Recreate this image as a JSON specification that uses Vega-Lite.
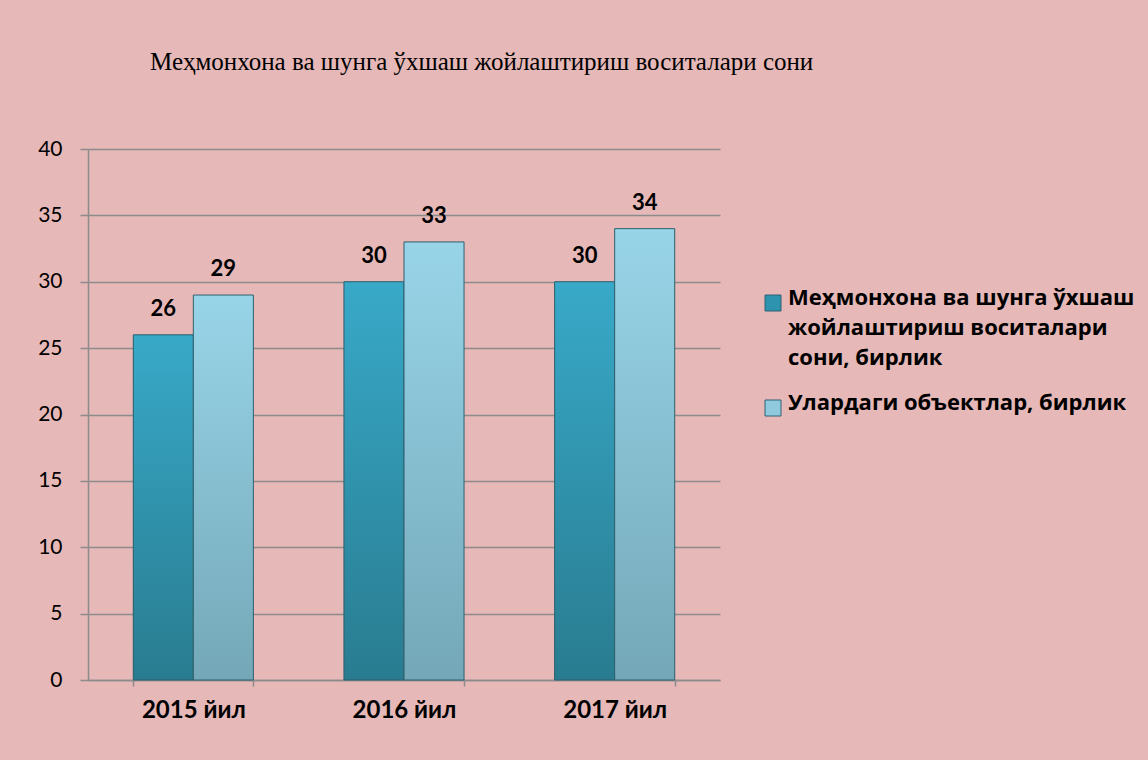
{
  "$schema": "https://vega.github.io/schema/vega-lite/v6.json",
  "width": 632,
  "height": 531,
  "autosize": {"type": "none"},
  "padding": {"left": 88, "top": 149, "right": 428, "bottom": 80},
  "background": "#E6B8B7",
  "title": {
    "text": "Меҳмонхона ва шунга ўхшаш жойлаштириш воситалари сони",
    "font": "Liberation Serif",
    "fontSize": 25,
    "fontWeight": "normal",
    "color": "#000000",
    "anchor": "start",
    "frame": "group",
    "dx": 62,
    "offset": 63
  },
  "config": {
    "view": {"stroke": null},
    "font": "Lato"
  },
  "data": {
    "values": [
      {"year": "2015 йил", "s": "Меҳмонхона ва шунга ўхшаш жойлаштириш воситалари сони, бирлик", "v": 26},
      {"year": "2015 йил", "s": "Улардаги объектлар, бирлик", "v": 29},
      {"year": "2016 йил", "s": "Меҳмонхона ва шунга ўхшаш жойлаштириш воситалари сони, бирлик", "v": 30},
      {"year": "2016 йил", "s": "Улардаги объектлар, бирлик", "v": 33},
      {"year": "2017 йил", "s": "Меҳмонхона ва шунга ўхшаш жойлаштириш воситалари сони, бирлик", "v": 30},
      {"year": "2017 йил", "s": "Улардаги объектлар, бирлик", "v": 34}
    ]
  },
  "encoding": {
    "x": {
      "field": "year",
      "type": "nominal",
      "scale": {"paddingInner": 0.43, "paddingOuter": 0.215},
      "axis": {
        "title": null,
        "labelAngle": 0,
        "labelFont": "Lato",
        "labelFontSize": 24,
        "labelFontWeight": "bold",
        "labelColor": "#000000",
        "labelPadding": 12,
        "domainColor": "#8C8C8C",
        "domainWidth": 1.5,
        "tickColor": "#8C8C8C",
        "tickWidth": 1.5,
        "tickSize": 6,
        "tickBand": "extent"
      }
    },
    "xOffset": {
      "field": "s",
      "type": "nominal",
      "sort": ["Меҳмонхона ва шунга ўхшаш жойлаштириш воситалари сони, бирлик", "Улардаги объектлар, бирлик"],
      "scale": {"paddingInner": 0, "paddingOuter": 0}
    },
    "y": {
      "field": "v",
      "type": "quantitative",
      "scale": {"domain": [0, 40], "nice": false},
      "axis": {
        "title": null,
        "values": [0, 5, 10, 15, 20, 25, 30, 35, 40],
        "labelFont": "Lato",
        "labelFontSize": 21,
        "labelColor": "#000000",
        "labelPadding": 18,
        "grid": true,
        "gridColor": "#8C8C8C",
        "gridWidth": 1.5,
        "domainColor": "#8C8C8C",
        "domainWidth": 1.5,
        "tickColor": "#8C8C8C",
        "tickWidth": 1.5,
        "tickSize": 8
      }
    }
  },
  "layer": [
    {
      "mark": {"type": "bar"},
      "encoding": {
        "color": {
          "field": "s",
          "type": "nominal",
          "sort": ["Меҳмонхона ва шунга ўхшаш жойлаштириш воситалари сони, бирлик", "Улардаги объектлар, бирлик"],
          "scale": {"range": ["#2E93AE", "#8FC9DD"]},
          "legend": {
            "title": null,
            "orient": "none",
            "legendX": 674,
            "legendY": 143,
            "symbolType": "square",
            "symbolSize": 256,
            "symbolStrokeColor": "#2F6272",
            "symbolStrokeWidth": 1,
            "labelFont": "Open Sans",
            "labelFontSize": 22,
            "labelFontWeight": "bold",
            "labelColor": "#000000",
            "labelLimit": 500,
            "labelOffset": 4,
            "labelBaseline": "top",
            "labelExpr": "datum.label == 'Улардаги объектлар, бирлик' ? datum.label : ['Меҳмонхона ва шунга ўхшаш', 'жойлаштириш воситалари', 'сони, бирлик']",
            "rowPadding": 23,
            "encode": {
              "labels": {"update": {"lineHeight": {"value": 30}, "dy": {"value": -15}}}
            }
          }
        }
      }
    },
    {
      "mark": {"type": "bar", "stroke": "#2F5F6C", "strokeWidth": 1},
      "encoding": {
        "fill": {
          "condition": {
            "test": "datum.s == 'Улардаги объектлар, бирлик'",
            "value": {"gradient": "linear", "x1": 0, "y1": 0, "x2": 0, "y2": 1, "stops": [{"offset": 0, "color": "#98D4E8"}, {"offset": 1, "color": "#74A8B8"}]}
          },
          "value": {"gradient": "linear", "x1": 0, "y1": 0, "x2": 0, "y2": 1, "stops": [{"offset": 0, "color": "#38A9C8"}, {"offset": 1, "color": "#297C90"}]}
        }
      }
    },
    {
      "mark": {"type": "text", "baseline": "bottom", "dy": -14, "font": "Lato", "fontSize": 22, "fontWeight": "bold", "color": "#000000"},
      "encoding": {
        "text": {"field": "v", "type": "quantitative"}
      }
    }
  ]
}
